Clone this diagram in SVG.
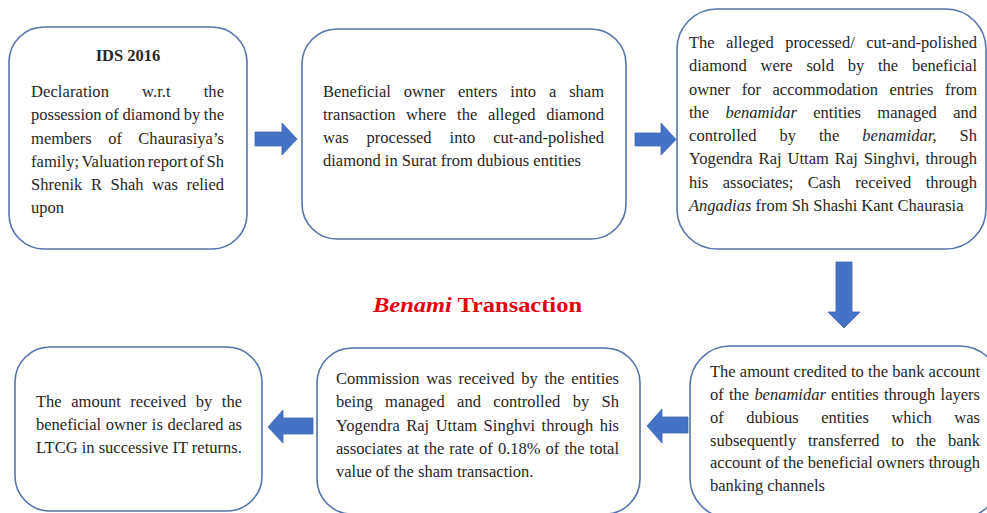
<svg xmlns="http://www.w3.org/2000/svg" width="987" height="513" viewBox="0 0 987 513">
<style>
.box{fill:#ffffff;stroke:#5574ab;stroke-width:1.6}
.arr{fill:#4472c4;stroke:#3d66b0;stroke-width:0.8}
.t{font-family:"Liberation Serif","Times New Roman",serif;font-size:16.5px;fill:#262626}
.b{font-weight:bold}
.i{font-style:italic}
.title{font-family:"Liberation Serif","Times New Roman",serif;font-size:21px;font-weight:bold;fill:#e3000f}
</style>
<rect width="987" height="513" fill="#ffffff"/>

<g id="connectors">
<path class="arr" d="M255,132 H282 V123 L297,139 L282,155 V146 H255 Z"/>
<path class="arr" d="M635,133 H661 V123 L676,139.5 L661,155 V146 H635 Z"/>
<path class="arr" d="M836,262 H852 V312 H860 L844,328 L828,312 H836 Z"/>
<path class="arr" d="M688,417 H662 V409 L647,426 L662,443 V433 H688 Z"/>
<path class="arr" d="M313,418 H283 V410 L268,427 L283,443 V434 H313 Z"/>
</g>

<g id="title">
<text class="title" x="373" y="312" textLength="209" lengthAdjust="spacingAndGlyphs"><tspan class="i">Benami</tspan> Transaction</text>
</g>

<g id="node1">
<rect class="box" x="9" y="27" width="238" height="222" rx="35"/>
<text class="t b" x="128" y="61" text-anchor="middle">IDS 2016</text>
<text class="t" x="31" y="97" word-spacing="28.7" textLength="193" lengthAdjust="spacing">Declaration w.r.t the</text>
<text class="t" x="31" y="120" word-spacing="-0.5" textLength="193" lengthAdjust="spacing">possession of diamond by the</text>
<text class="t" x="31" y="144" word-spacing="12.2" textLength="193" lengthAdjust="spacing">members of Chaurasiya’s</text>
<text class="t" x="31" y="167" word-spacing="-1.7" textLength="193" lengthAdjust="spacing">family; Valuation report of Sh</text>
<text class="t" x="31" y="190" word-spacing="4.5" textLength="193" lengthAdjust="spacing">Shrenik R Shah was relied</text>
<text class="t" x="31" y="213">upon</text>
</g>

<g id="node2">
<rect class="box" x="302" y="29" width="324" height="210" rx="35"/>
<text class="t" x="323" y="97" word-spacing="8.8" textLength="281" lengthAdjust="spacing">Beneficial owner enters into a sham</text>
<text class="t" x="323" y="120" word-spacing="6.5" textLength="281" lengthAdjust="spacing">transaction where the alleged diamond</text>
<text class="t" x="323" y="143" word-spacing="13.8" textLength="281" lengthAdjust="spacing">was processed into cut-and-polished</text>
<text class="t" x="323" y="166">diamond in Surat from dubious entities</text>
</g>

<g id="node3">
<rect class="box" x="677" y="9" width="309" height="240" rx="40"/>
<text class="t" x="689" y="48" word-spacing="7.3" textLength="288" lengthAdjust="spacing">The alleged processed/ cut-and-polished</text>
<text class="t" x="689" y="71" word-spacing="9.7" textLength="288" lengthAdjust="spacing">diamond were sold by the beneficial</text>
<text class="t" x="689" y="95" word-spacing="7.4" textLength="288" lengthAdjust="spacing">owner for accommodation entries from</text>
<text class="t" x="689" y="118" word-spacing="12.2" textLength="288" lengthAdjust="spacing">the <tspan class="i">benamidar</tspan> entities managed and</text>
<text class="t" x="689" y="141" word-spacing="18.7" textLength="288" lengthAdjust="spacing">controlled by the <tspan class="i">benamidar,</tspan> Sh</text>
<text class="t" x="689" y="164" word-spacing="1.7" textLength="288" lengthAdjust="spacing">Yogendra Raj Uttam Raj Singhvi, through</text>
<text class="t" x="689" y="188" word-spacing="10.4" textLength="288" lengthAdjust="spacing">his associates; Cash received through</text>
<text class="t" x="689" y="211"><tspan class="i">Angadias</tspan> from Sh Shashi Kant Chaurasia</text>
</g>

<g id="node4">
<rect class="box" x="690" y="346" width="310" height="172" rx="40"/>
<text class="t" x="710" y="377" textLength="270" lengthAdjust="spacing">The amount credited to the bank account</text>
<text class="t" x="710" y="400" word-spacing="1.1" textLength="270" lengthAdjust="spacing">of the <tspan class="i">benamidar</tspan> entities through layers</text>
<text class="t" x="710" y="423" word-spacing="18.5" textLength="270" lengthAdjust="spacing">of dubious entities which was</text>
<text class="t" x="710" y="446" word-spacing="7.7" textLength="270" lengthAdjust="spacing">subsequently transferred to the bank</text>
<text class="t" x="710" y="468" textLength="270" lengthAdjust="spacing">account of the beneficial owners through</text>
<text class="t" x="710" y="491">banking channels</text>
</g>

<g id="node5">
<rect class="box" x="317" y="348" width="323" height="166" rx="35"/>
<text class="t" x="336" y="384" word-spacing="2.6" textLength="283" lengthAdjust="spacing">Commission was received by the entities</text>
<text class="t" x="336" y="407" word-spacing="8.3" textLength="283" lengthAdjust="spacing">being managed and controlled by Sh</text>
<text class="t" x="336" y="431" word-spacing="2.2" textLength="283" lengthAdjust="spacing">Yogendra Raj Uttam Singhvi through his</text>
<text class="t" x="336" y="454" word-spacing="0.9" textLength="283" lengthAdjust="spacing">associates at the rate of 0.18% of the total</text>
<text class="t" x="336" y="477">value of the sham transaction.</text>
</g>

<g id="node6">
<rect class="box" x="15" y="347" width="247" height="164" rx="35"/>
<text class="t" x="36" y="407" word-spacing="5.4" textLength="206" lengthAdjust="spacing">The amount received by the</text>
<text class="t" x="36" y="430" word-spacing="0.6" textLength="206" lengthAdjust="spacing">beneficial owner is declared as</text>
<text class="t" x="36" y="453">LTCG in successive IT returns.</text>
</g>
</svg>
